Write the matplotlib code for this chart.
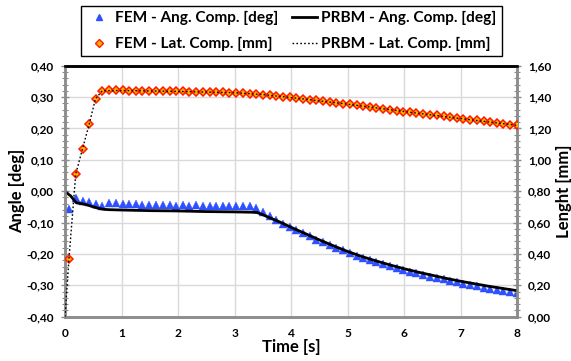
import matplotlib
matplotlib.use("Agg")
import matplotlib.pyplot as plt
from matplotlib.ticker import FuncFormatter, MultipleLocator, AutoMinorLocator

# ---------------- data ----------------
fem_t = [0.07, 0.19, 0.31, 0.43, 0.54, 0.66, 0.78, 0.90, 1.02, 1.14,
         1.25, 1.37, 1.49, 1.61, 1.73, 1.85, 1.96, 2.08, 2.20, 2.32,
         2.44, 2.56, 2.67, 2.79, 2.91, 3.03, 3.15, 3.27, 3.38, 3.50,
         3.62, 3.74, 3.86, 3.98, 4.09, 4.21, 4.33, 4.45, 4.57, 4.69,
         4.80, 4.92, 5.04, 5.16, 5.28, 5.40, 5.51, 5.63, 5.75, 5.87,
         5.99, 6.11, 6.22, 6.34, 6.46, 6.58, 6.70, 6.82, 6.93, 7.05,
         7.17, 7.29, 7.41, 7.53, 7.64, 7.76, 7.88, 8.00]

fem_ang = [-0.058, -0.023, -0.030, -0.036, -0.040, -0.046, -0.038, -0.038, -0.040, -0.041,
           -0.042, -0.043, -0.045, -0.043, -0.045, -0.044, -0.046, -0.045, -0.046, -0.045,
           -0.047, -0.046, -0.048, -0.046, -0.048, -0.047, -0.046, -0.047, -0.052, -0.066,
           -0.080, -0.093, -0.104, -0.115, -0.124, -0.134, -0.144, -0.154, -0.163, -0.172,
           -0.180, -0.189, -0.197, -0.205, -0.212, -0.219, -0.225, -0.232, -0.238, -0.245,
           -0.251, -0.256, -0.261, -0.267, -0.272, -0.277, -0.281, -0.286, -0.290, -0.295,
           -0.299, -0.303, -0.307, -0.311, -0.315, -0.318, -0.322, -0.326]

fem_lat = [0.37, 0.91, 1.07, 1.23, 1.39, 1.440, 1.442, 1.442, 1.442, 1.441,
           1.441, 1.440, 1.440, 1.439, 1.438, 1.438, 1.437, 1.436, 1.435, 1.434,
           1.433, 1.432, 1.431, 1.430, 1.429, 1.427, 1.425, 1.422, 1.419, 1.416,
           1.412, 1.408, 1.403, 1.398, 1.394, 1.389, 1.384, 1.379, 1.374, 1.369,
           1.364, 1.359, 1.354, 1.348, 1.343, 1.337, 1.332, 1.326, 1.320, 1.314,
           1.308, 1.303, 1.298, 1.293, 1.288, 1.283, 1.278, 1.273, 1.268, 1.262,
           1.257, 1.251, 1.246, 1.240, 1.235, 1.230, 1.225, 1.220]

prbm_ang_t = [0.0, 0.1, 0.2, 0.3, 0.4, 0.5, 0.6, 0.7, 0.8, 1.0, 1.5, 2.0, 2.5,
              3.0, 3.3, 3.4, 3.5, 3.6, 3.8, 4.0, 4.25, 4.5, 4.75, 5.0, 5.25,
              5.5, 5.75, 6.0, 6.25, 6.5, 6.75, 7.0, 7.25, 7.5, 7.75, 8.0]
prbm_ang = [-0.001, -0.015, -0.037, -0.040, -0.044, -0.050, -0.055, -0.058, -0.059,
            -0.060, -0.062, -0.063, -0.065, -0.066, -0.067, -0.068, -0.075, -0.083,
            -0.098, -0.115, -0.135, -0.155, -0.174, -0.192, -0.208, -0.222, -0.235,
            -0.247, -0.258, -0.268, -0.278, -0.287, -0.295, -0.303, -0.310, -0.317]

prbm_lat_t = [0.0, 0.07, 0.19, 0.31, 0.43, 0.54, 0.66, 1.0, 2.0, 3.0, 3.5,
              4.0, 5.0, 6.0, 7.0, 8.0]
prbm_lat = [0.0, 0.37, 0.91, 1.07, 1.23, 1.39, 1.44, 1.442, 1.436, 1.428, 1.416,
            1.397, 1.355, 1.308, 1.263, 1.220]

x_ticks = [0, 1, 2, 3, 4, 5, 6, 7, 8]
labels = {
    "fem_ang": "FEM - Ang. Comp. [deg]",
    "prbm_ang": "PRBM - Ang. Comp. [deg]",
    "fem_lat": "FEM - Lat. Comp. [mm]",
    "prbm_lat": "PRBM - Lat. Comp. [mm]",
}

# ---------------- style ----------------
FONT = ["Lato", "DejaVu Sans"]
plt.rcParams["font.family"] = FONT
plt.rcParams["font.weight"] = "bold"

BLUE = "#2F50FF"
ORANGE = "#FFB000"
RED = "#FF1A00"
GRID = "#D9D9D9"
SPINE = "#8C8C8C"

fig = plt.figure(figsize=(5.71, 3.61), dpi=100)
ax = fig.add_axes([65 / 571, 1 - 316.7 / 361, (517 - 65) / 571, (316.7 - 65.7) / 361])
ax2 = ax.twinx()

ax.set_xlim(0, 8)
ax.set_ylim(-0.40, 0.40)
ax2.set_ylim(0.0, 1.6)

ax.xaxis.set_major_locator(MultipleLocator(1))
ax.yaxis.set_major_locator(MultipleLocator(0.1))
ax.yaxis.set_minor_locator(AutoMinorLocator(5))
ax2.yaxis.set_major_locator(MultipleLocator(0.2))
ax2.yaxis.set_minor_locator(AutoMinorLocator(5))

comma = FuncFormatter(lambda v, p: f"{v:.2f}".replace(".", ",").replace("-0,00", "0,00"))
ax.yaxis.set_major_formatter(comma)
ax2.yaxis.set_major_formatter(comma)
ax.set_xticks(x_ticks)
ax.set_xticklabels([str(v) for v in x_ticks])

ax.grid(True, which="major", color=GRID, linewidth=1.0)
ax.set_axisbelow(True)

for a in (ax, ax2):
    for s in ("left", "right", "bottom"):
        a.spines[s].set_color(SPINE)
        a.spines[s].set_linewidth(1.8)
    a.spines["top"].set_color("black")
    a.spines["top"].set_linewidth(1.8)

ax.tick_params(axis="y", which="major", direction="inout", length=6, width=1, color=SPINE,
               labelsize=8.6, pad=5)
ax.tick_params(axis="y", which="minor", direction="inout", length=4, width=0.8, color=SPINE)
ax2.tick_params(axis="y", which="major", direction="inout", length=6, width=1, color=SPINE,
                labelsize=8.6, pad=5)
ax2.tick_params(axis="y", which="minor", direction="inout", length=4, width=0.8, color=SPINE)
ax.tick_params(axis="x", which="major", length=0, labelsize=8.6, pad=8)
ax2.tick_params(axis="x", length=0)

for lab in ax.get_xticklabels() + ax.get_yticklabels() + ax2.get_yticklabels():
    lab.set_fontweight("bold")

ax.set_xlabel("Time [s]", fontsize=12, fontweight="bold", labelpad=0)
ax.set_ylabel("Angle [deg]", fontsize=12, fontweight="bold", labelpad=1)
ax2.set_ylabel("Lenght [mm]", fontsize=12, fontweight="bold", labelpad=3)

# ---------------- marks ----------------
h1, = ax.plot(fem_t, fem_ang, linestyle="none", marker="^", markersize=5.2,
              markerfacecolor=BLUE, markeredgecolor=BLUE, markeredgewidth=0.3, zorder=3)
h2, = ax.plot(prbm_ang_t, prbm_ang, color="black", linewidth=2.0, zorder=4)
h3, = ax2.plot(fem_t, fem_lat, linestyle="none", marker="D", markersize=4.4,
               markerfacecolor=ORANGE, markeredgecolor=RED, markeredgewidth=1.1, zorder=3)
h4, = ax2.plot(prbm_lat_t, prbm_lat, color="black", linestyle=(0, (1.2, 1.6)),
               linewidth=1.0, zorder=4)

leg_handles = [
    plt.Line2D([], [], linestyle="none", marker="^", markersize=5, color=BLUE),
    plt.Line2D([], [], linestyle="none", marker="D", markersize=4.2,
               markerfacecolor=ORANGE, markeredgecolor=RED, markeredgewidth=1.0),
    plt.Line2D([], [], color="black", linewidth=2.0),
    plt.Line2D([], [], color="black", linestyle=(0, (1.2, 1.6)), linewidth=1.0),
]
leg_labels = [labels["fem_ang"], labels["fem_lat"], labels["prbm_ang"], labels["prbm_lat"]]
leg = fig.legend(leg_handles, leg_labels, ncol=2, loc="center",
                 bbox_to_anchor=((80 + 503) / 2 / 571, 1 - 31 / 361),
                 prop={"family": FONT, "weight": "bold", "size": 11.1},
                 frameon=True, fancybox=False, edgecolor="black", framealpha=1,
                 handlelength=1.6, handletextpad=0.25, columnspacing=0.9,
                 borderpad=0.35, borderaxespad=0, labelspacing=0.75)
leg.get_frame().set_linewidth(1.0)

fig.savefig("out.png", dpi=100)
